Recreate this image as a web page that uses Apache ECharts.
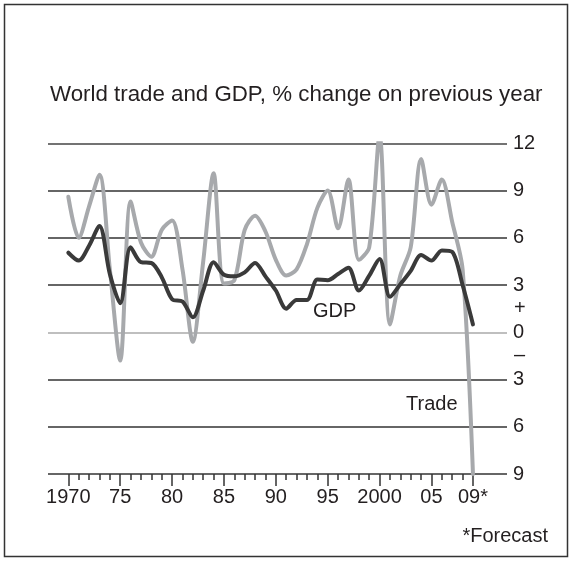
<!DOCTYPE html>
<html>
<head>
<meta charset="utf-8">
<script src="https://cdn.jsdelivr.net/npm/echarts@6/dist/echarts.min.js"></script>
<style>
  html, body { margin: 0; padding: 0; background: #fff; }
  #chart { width: 573px; height: 561px; }
</style>
</head>
<body>
<div id="chart"></div>
<script>
const years = [1970,1971,1972,1973,1974,1975,1976,1977,1978,1979,
               1980,1981,1982,1983,1984,1985,1986,1987,1988,1989,
               1990,1991,1992,1993,1994,1995,1996,1997,1998,1999,
               2000,2001,2002,2003,2004,2005,2006,2007,2008,2009];

const trade = [8.6, 6.0, 8.0, 10.0, 4.0, -1.8, 8.3, 5.7, 4.8, 6.5,
               7.1, 4.0, -0.6, 4.5, 10.1, 3.1, 3.3, 6.5, 7.4, 6.4,
               4.6, 3.6, 4.0, 5.6, 7.9, 9.0, 6.6, 9.7, 4.6, 5.4,
               12.5, 0.5, 3.6, 5.4, 11.0, 8.1, 9.7, 7.0, 4.0, -9.0];

const gdp = [5.05, 4.55, 5.5, 6.75, 3.7, 1.85, 5.4, 4.45, 4.4, 3.5,
             2.1, 1.95, 0.95, 2.65, 4.45, 3.65, 3.55, 3.8, 4.4, 3.55,
             2.65, 1.5, 2.05, 2.05, 3.35, 3.3, 3.7, 4.1, 2.65, 3.6,
             4.65, 2.25, 3.05, 3.9, 4.9, 4.55, 5.2, 5.1, 3.0, 0.5];

const majorYears = [1970,1975,1980,1985,1990,1995,2000,2005,2009];
const majorLabels = ['1970','75','80','85','90','95','2000','05','09*'];
const signValues = [1.5, -1.5];
const signLabels = ['+', '\u2013'];

const FONT = '"Liberation Sans", Arial, Helvetica, sans-serif';
const TXT = '#231f20';

const chart = echarts.init(document.getElementById('chart'), null, { renderer: 'canvas' });

const toPairs = (vals) => years.map((y, i) => [y, vals[i]]);

const xCommon = {
  type: 'value', min: 1968.04, max: 2012.28, position: 'bottom',
  axisLine: { show: false, onZero: false },
  splitLine: { show: false }
};

chart.setOption({
  animation: false,
  title: {
    text: 'World trade and GDP, % change on previous year',
    left: 45, top: 79,
    textStyle: { fontFamily: FONT, fontSize: 22.3, fontWeight: 'normal', color: TXT }
  },
  grid: { left: 48, right: 66, top: 143.3, bottom: 87 },
  xAxis: [
    Object.assign({}, xCommon, {
      axisTick: { show: true, customValues: years, length: 6, lineStyle: { color: '#333', width: 1.5 } },
      axisLabel: {
        show: true, customValues: majorYears, margin: 13,
        fontFamily: FONT, fontSize: 20, color: TXT,
        formatter: (v) => { const i = majorYears.indexOf(Math.round(v)); return i >= 0 ? majorLabels[i] : ''; }
      }
    }),
    Object.assign({}, xCommon, {
      axisTick: { show: true, customValues: majorYears, length: 12, lineStyle: { color: '#333', width: 1.5 } },
      axisLabel: { show: false }
    })
  ],
  yAxis: [
    {
      type: 'value', min: -9, max: 12, interval: 3, position: 'right',
      axisLine: { show: false }, axisTick: { show: false },
      splitLine: { show: true, lineStyle: { color: ['#333','#333','#333','#aaa','#333','#333','#333','#444'], width: 1.5 } },
      axisLabel: { margin: 6, fontFamily: FONT, fontSize: 20, color: TXT, formatter: (v) => String(Math.abs(v)) }
    },
    {
      type: 'value', min: -9, max: 12, position: 'right',
      axisLine: { show: false }, axisTick: { show: false }, splitLine: { show: false },
      axisLabel: {
        customValues: signValues, margin: 7, fontFamily: FONT, fontSize: 20, color: TXT,
        formatter: (v) => v > 0 ? signLabels[0] : signLabels[1]
      }
    }
  ],
  series: [
    {
      name: 'Trade', type: 'line', data: toPairs(trade), xAxisIndex: 0, yAxisIndex: 0,
      showSymbol: false, smooth: 0.3, lineStyle: { color: '#a7a9ac', width: 4, cap: 'round', join: 'round' }
    },
    {
      name: 'GDP', type: 'line', data: toPairs(gdp), xAxisIndex: 0, yAxisIndex: 0,
      showSymbol: false, smooth: 0.3, lineStyle: { color: '#3a3a3a', width: 4, cap: 'round', join: 'round' }
    }
  ],
  graphic: [
    { type: 'rect', shape: { x: 4.5, y: 4.5, width: 563, height: 552 }, style: { fill: 'none', stroke: '#333', lineWidth: 1.5 }, z: -1 },
    { type: 'text', left: 313, top: 301, style: { text: 'GDP', font: '20px ' + FONT, fill: TXT } },
    { type: 'text', left: 406, top: 394, style: { text: 'Trade', font: '20px ' + FONT, fill: TXT } },
    { type: 'text', right: 25, top: 526, style: { text: '*Forecast', font: '20px ' + FONT, fill: TXT } }
  ]
});
</script>
</body>
</html>
